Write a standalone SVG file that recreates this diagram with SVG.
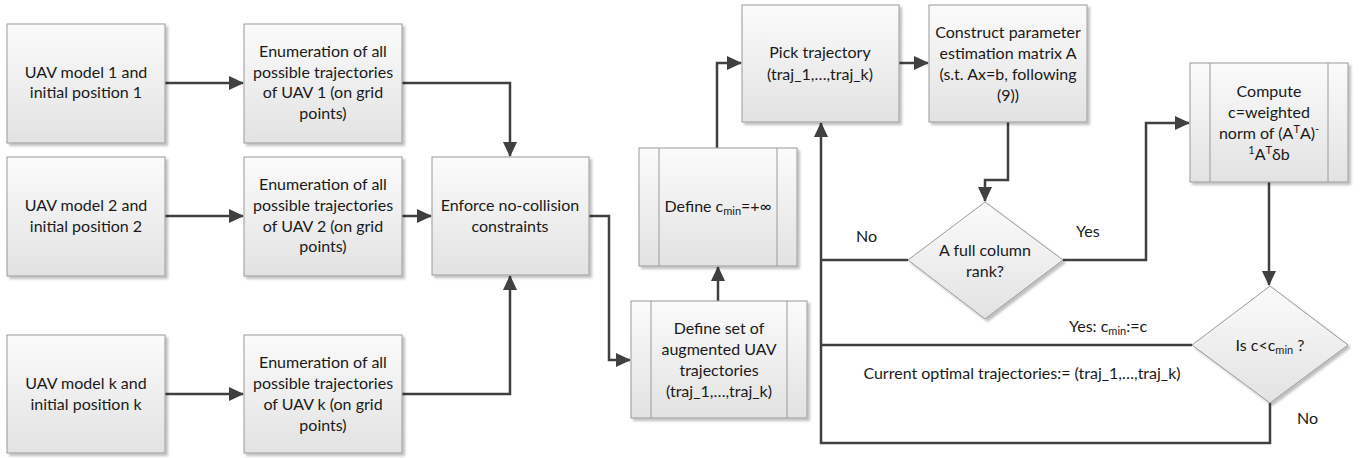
<svg xmlns="http://www.w3.org/2000/svg" width="1364" height="458" viewBox="0 0 1364 458">
<style>
  .box { fill: url(#g); stroke: #9a9a9a; stroke-width: 1; filter: url(#sh); }
  .inner { stroke: #9a9a9a; stroke-width: 1; fill: none; }
  .t { font-family: Lato, "Open Sans", sans-serif; font-size: 16px; fill: #1a1a1a; text-anchor: middle; }
  .l { font-family: Lato, "Open Sans", sans-serif; font-size: 16px; fill: #1a1a1a; }
  .c { fill: none; stroke: #404040; stroke-width: 2.5; }
  .a { marker-end: url(#arr); }
  .s { font-size: 11px; }
</style>
<defs>
  <linearGradient id="g" x1="0" y1="0" x2="0" y2="1">
    <stop offset="0" stop-color="#fbfbfb"/>
    <stop offset="1" stop-color="#e2e2e2"/>
  </linearGradient>
  <filter id="sh" x="-10%" y="-10%" width="130%" height="130%">
    <feDropShadow dx="2.5" dy="2.5" stdDeviation="1.2" flood-color="#000" flood-opacity="0.25"/>
  </filter>
  <marker id="arr" markerUnits="userSpaceOnUse" markerWidth="15" markerHeight="14" refX="14" refY="7" orient="auto">
    <path d="M0,0 L15,7 L0,14 z" fill="#404040"/>
  </marker>
</defs>

<g id="connectors">
  <path class="c a" d="M165,83 H243"/>
  <path class="c a" d="M165,216 H243"/>
  <path class="c a" d="M165,394 H243"/>
  <path class="c a" d="M402,83 H510 V156"/>
  <path class="c a" d="M402,216 H431"/>
  <path class="c a" d="M402,394 H510 V276"/>
  <path class="c a" d="M589,216 H609 V360 H630"/>
  <path class="c a" d="M718,301 V267"/>
  <path class="c a" d="M717,148 V63 H741"/>
  <path class="c a" d="M899,63 H928"/>
  <path class="c a" d="M1008,122 V180 H985 V201"/>
  <path class="c a" d="M1063,260 H1146 V123 H1189"/>
  <path class="c a" d="M1269,182 V285"/>
  <path class="c" d="M908,260 H821"/>
  <path class="c" d="M1192,345 H821"/>
  <path class="c a" d="M1270,403 V443 H821 V123"/>
  <text class="l" x="856" y="242">No</text>
  <text class="l" x="1076" y="237">Yes</text>
  <text class="l" x="1069" y="332">Yes: c<tspan class="s" dy="3">min</tspan><tspan dy="-3">:=c</tspan></text>
  <text class="t" x="1022" y="379">Current optimal trajectories:= (traj_1,…,traj_k)</text>
  <text class="l" x="1297" y="424">No</text>
</g>

<g id="n1">
  <rect class="box" x="7" y="24" width="158" height="119"/>
  <text class="t" x="86" y="78">UAV model 1 and</text>
  <text class="t" x="86" y="98">initial position 1</text>
</g>
<g id="n2">
  <rect class="box" x="244" y="24" width="158" height="119"/>
  <text class="t" x="323" y="57">Enumeration of all</text>
  <text class="t" x="323" y="78">possible trajectories</text>
  <text class="t" x="323" y="98">of UAV 1 (on grid</text>
  <text class="t" x="323" y="119">points)</text>
</g>
<g id="n3">
  <rect class="box" x="7" y="157" width="158" height="119"/>
  <text class="t" x="86" y="211">UAV model 2 and</text>
  <text class="t" x="86" y="232">initial position 2</text>
</g>
<g id="n4">
  <rect class="box" x="244" y="157" width="158" height="119"/>
  <text class="t" x="323" y="190">Enumeration of all</text>
  <text class="t" x="323" y="211">possible trajectories</text>
  <text class="t" x="323" y="232">of UAV 2 (on grid</text>
  <text class="t" x="323" y="252">points)</text>
</g>
<g id="n5">
  <rect class="box" x="7" y="335" width="158" height="118"/>
  <text class="t" x="86" y="389">UAV model k and</text>
  <text class="t" x="86" y="410">initial position k</text>
</g>
<g id="n6">
  <rect class="box" x="244" y="335" width="158" height="118"/>
  <text class="t" x="323" y="368">Enumeration of all</text>
  <text class="t" x="323" y="389">possible trajectories</text>
  <text class="t" x="323" y="410">of UAV k (on grid</text>
  <text class="t" x="323" y="431">points)</text>
</g>
<g id="n7">
  <rect class="box" x="432" y="157" width="157" height="118"/>
  <text class="t" x="510" y="211">Enforce no-collision</text>
  <text class="t" x="510" y="232">constraints</text>
</g>
<g id="n8">
  <rect class="box" x="631" y="301" width="176" height="117"/>
  <line class="inner" x1="651" y1="301" x2="651" y2="418"/>
  <line class="inner" x1="787" y1="301" x2="787" y2="418"/>
  <text class="t" x="719" y="334">Define set of</text>
  <text class="t" x="719" y="355">augmented UAV</text>
  <text class="t" x="719" y="376">trajectories</text>
  <text class="t" x="719" y="397">(traj_1,…,traj_k)</text>
</g>
<g id="n9">
  <rect class="box" x="639" y="148" width="158" height="118"/>
  <line class="inner" x1="659" y1="148" x2="659" y2="266"/>
  <line class="inner" x1="777" y1="148" x2="777" y2="266"/>
  <text class="t" x="718" y="212">Define c<tspan class="s" dy="3">min</tspan><tspan dy="-3">=+∞</tspan></text>
</g>
<g id="n10">
  <rect class="box" x="742" y="5" width="157" height="117"/>
  <text class="t" x="820" y="58">Pick trajectory</text>
  <text class="t" x="820" y="80">(traj_1,…,traj_k)</text>
</g>
<g id="n11">
  <rect class="box" x="929" y="5" width="158" height="117"/>
  <text class="t" x="1008" y="38">Construct parameter</text>
  <text class="t" x="1008" y="59">estimation matrix A</text>
  <text class="t" x="1008" y="80">(s.t. Ax=b, following</text>
  <text class="t" x="1008" y="101">(9))</text>
</g>
<g id="n12">
  <rect class="box" x="1190" y="63" width="158" height="119"/>
  <line class="inner" x1="1210" y1="63" x2="1210" y2="182"/>
  <line class="inner" x1="1328" y1="63" x2="1328" y2="182"/>
  <text class="t" x="1269" y="97">Compute</text>
  <text class="t" x="1269" y="118">c=weighted</text>
  <text class="t" x="1269" y="139">norm of (A<tspan class="s" dy="-6">T</tspan><tspan dy="6">A)</tspan><tspan class="s" dy="-6">-</tspan></text>
  <text class="t" x="1269" y="160"><tspan class="s" dy="-6">1</tspan><tspan dy="6">A</tspan><tspan class="s" dy="-6">T</tspan><tspan dy="6">δb</tspan></text>
</g>
<g id="n13">
  <polygon class="box" points="985,202 1063,260 985,319 908,260"/>
  <text class="t" x="985" y="256">A full column</text>
  <text class="t" x="985" y="277">rank?</text>
</g>
<g id="n14">
  <polygon class="box" points="1270,286 1348,345 1270,403 1192,345"/>
  <text class="t" x="1270" y="351">Is c&lt;c<tspan class="s" dy="3">min</tspan><tspan dy="-3"> ?</tspan></text>
</g>
</svg>
